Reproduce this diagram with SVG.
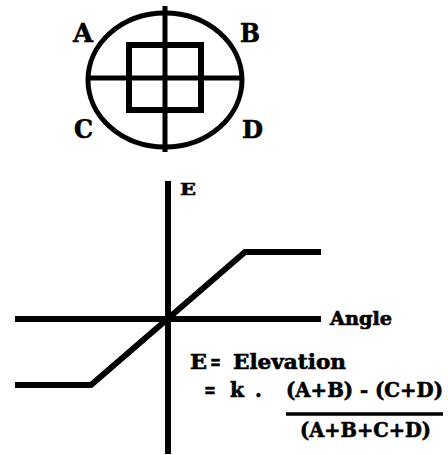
<svg xmlns="http://www.w3.org/2000/svg" width="448" height="455" viewBox="0 0 448 455">
<style>
.t{font-family:"DejaVu Serif","Liberation Serif",serif;font-weight:bold;fill:#000;stroke:#000;stroke-width:0.6}
.s{stroke:#000;fill:none;stroke-linecap:butt}
</style>
<rect width="448" height="455" fill="#fff"/>
<g id="detector">
<ellipse class="s" cx="165" cy="80" rx="77" ry="67" stroke-width="5"/>
<rect class="s" x="129" y="45" width="72" height="65" stroke-width="6"/>
<line class="s" x1="165" y1="6" x2="165" y2="152" stroke-width="5"/>
<line class="s" x1="87" y1="78" x2="243" y2="78" stroke-width="5"/>
</g>
<g id="labels-quadrants">
<text class="t" x="73" y="42" font-size="26" textLength="20" lengthAdjust="spacingAndGlyphs">A</text>
<text class="t" x="240" y="42" font-size="26" textLength="20" lengthAdjust="spacingAndGlyphs">B</text>
<text class="t" x="74" y="138" font-size="26" textLength="19" lengthAdjust="spacingAndGlyphs">C</text>
<text class="t" x="242" y="138" font-size="25" textLength="21" lengthAdjust="spacingAndGlyphs">D</text>
</g>
<g id="axes">
<line class="s" x1="168" y1="181" x2="168" y2="454" stroke-width="6"/>
<line class="s" x1="15" y1="319" x2="321" y2="319" stroke-width="6"/>
<text class="t" x="180" y="195" font-size="17" textLength="16" lengthAdjust="spacingAndGlyphs">E</text>
<text class="t" x="330" y="325" font-size="18" textLength="62" lengthAdjust="spacingAndGlyphs">Angle</text>
</g>
<g id="curve">
<polyline class="s" points="15,385 91,385 245,252 321,252" stroke-width="6" stroke-linejoin="miter"/>
</g>
<g id="formula">
<text class="t" x="190" y="369" font-size="19.5" textLength="17" lengthAdjust="spacingAndGlyphs">E</text>
<text class="t" x="210" y="369" font-size="19.5" textLength="11" lengthAdjust="spacingAndGlyphs">=</text>
<text class="t" x="233" y="369" font-size="19.5" textLength="113" lengthAdjust="spacingAndGlyphs">Elevation</text>
<text class="t" x="204" y="397" font-size="19.5" textLength="12" lengthAdjust="spacingAndGlyphs">=</text>
<text class="t" x="230" y="397" font-size="19.5" textLength="14" lengthAdjust="spacingAndGlyphs">k</text>
<text class="t" x="255" y="397" font-size="19.5">.</text>
<text class="t" x="286" y="397" font-size="19.5" textLength="157" lengthAdjust="spacingAndGlyphs">(A+B) - (C+D)</text>
<line class="s" x1="286" y1="414" x2="443" y2="414" stroke-width="3.5"/>
<text class="t" x="300" y="437" font-size="19.5" textLength="131" lengthAdjust="spacingAndGlyphs">(A+B+C+D)</text>
</g>
</svg>
